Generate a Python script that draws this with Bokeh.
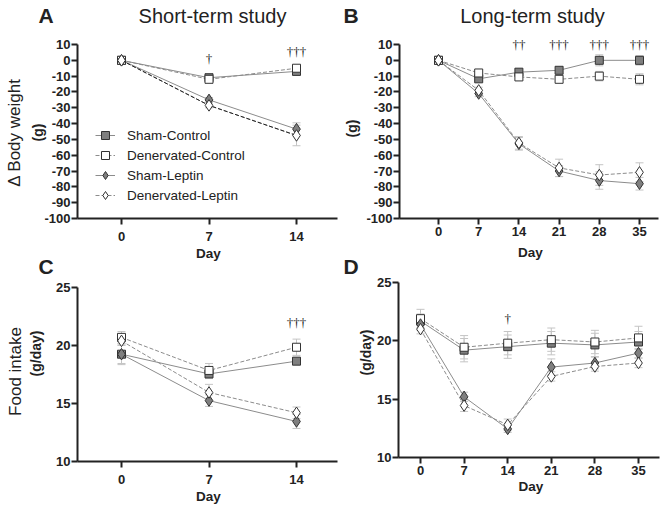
import math
from bokeh.plotting import figure
from bokeh.models import (Range1d, FixedTicker, Label, LabelSet, ColumnDataSource,
                          Whisker, TeeHead, Legend, LegendItem, LinearAxis)
from bokeh.layouts import row
from bokeh.embed import file_html
from bokeh.resources import INLINE

FONT = "Liberation Sans"
INK = "#222222"

group_names = ["Sham-Control", "Denervated-Control", "Sham-Leptin", "Denervated-Leptin"]

days_short = [0, 7, 14]
days_long = [0, 7, 14, 21, 28, 35]

# A: change in body weight, short-term study (g)
bw_short_sham_ctrl = [0, -11, -7]
bw_short_den_ctrl = [0, -12, -5]
bw_short_sham_lep = [0, -25, -43.5]
bw_short_den_lep = [0, -28.5, -47.5]
bw_short_sham_ctrl_err = [0, 1.5, 2]
bw_short_den_ctrl_err = [0, 1.5, 2]
bw_short_sham_lep_err = [0, 1.5, 4]
bw_short_den_lep_err = [0, 1.5, 6.5]

# B: change in body weight, long-term study (g)
bw_long_sham_ctrl = [0, -11.7, -7.5, -6.3, 0, 0]
bw_long_den_ctrl = [0, -8, -10.5, -12, -10, -12]
bw_long_sham_lep = [0, -21, -52.8, -70, -76, -78]
bw_long_den_lep = [0, -19, -52.2, -68, -72.5, -70.8]
bw_long_sham_ctrl_err = [0, 1.5, 2, 2, 3.5, 3]
bw_long_den_ctrl_err = [0, 1.5, 2, 2, 3, 3.5]
bw_long_sham_lep_err = [0, 2, 4, 3.5, 5.5, 4]
bw_long_den_lep_err = [0, 2, 4, 5.5, 6.5, 6]

# C: food intake, short-term study (g/day)
fi_short_sham_ctrl = [19.25, 17.55, 18.65]
fi_short_den_ctrl = [20.7, 17.85, 19.85]
fi_short_sham_lep = [19.25, 15.25, 13.45]
fi_short_den_lep = [20.4, 15.95, 14.2]
fi_short_sham_ctrl_err = [0.8, 0.4, 0.3]
fi_short_den_ctrl_err = [0.5, 0.6, 0.7]
fi_short_sham_lep_err = [0.9, 0.5, 0.6]
fi_short_den_lep_err = [0.4, 0.7, 0.5]

# D: food intake, long-term study (g/day)
fi_long_sham_ctrl = [21.7, 19.2, 19.5, 19.8, 19.65, 19.9]
fi_long_den_ctrl = [21.9, 19.45, 19.8, 20.1, 19.9, 20.25]
fi_long_sham_lep = [21.4, 15.2, 12.45, 17.75, 18.1, 18.95]
fi_long_den_lep = [21.0, 14.45, 12.8, 16.95, 17.8, 18.1]
fi_long_sham_ctrl_err = [0.6, 1.0, 1.0, 1.0, 1.0, 0.9]
fi_long_den_ctrl_err = [0.8, 1.0, 1.0, 1.0, 1.0, 1.0]
fi_long_sham_lep_err = [0.5, 0.4, 0.3, 0.7, 0.5, 0.4]
fi_long_den_lep_err = [0.4, 0.5, 0.5, 0.4, 0.4, 0.4]

# significance marks (day, mark, level)
sig_a_days = [7, 14]
sig_a_marks = ["\u2020", "\u2020\u2020\u2020"]
sig_a_level = [1.0, 5.5]
sig_b_days = [14, 21, 28, 35]
sig_b_marks = ["\u2020\u2020", "\u2020\u2020\u2020", "\u2020\u2020\u2020", "\u2020\u2020\u2020"]
sig_b_level = [10, 10, 10, 10]
sig_c_days = [14]
sig_c_marks = ["\u2020\u2020\u2020"]
sig_c_level = [21.95]
sig_d_days = [14]
sig_d_marks = ["\u2020"]
sig_d_level = [21.9]

bw_ticks = list(range(-100, 11, 10))
fi_ticks = [10, 15, 20, 25]

GRAY_FILL = "#7f7f7f"
LINE_GRAY = "#8c8c8c"
ERR_GRAY = "#c4c4c4"
STYLE = {
    "Sham-Control": dict(marker="square", size=8, fill=GRAY_FILL, dash="solid"),
    "Denervated-Control": dict(marker="square", size=8, fill="white", dash="4 2"),
    "Sham-Leptin": dict(marker="diamond", size=11.5, fill=GRAY_FILL, dash="solid"),
    "Denervated-Leptin": dict(marker="diamond", size=11.5, fill="white", dash="4 2"),
}
VERT = math.pi / 2
CANVAS_H = 506


def mappers(g):
    ypp = (g["y_hi"] - g["y_lo"]) / (g["bottom"] - g["top"])
    dx = lambda px: (px - g["px0"]) / g["ppd"]
    dy = lambda py: g["y_hi"] - (py - g["top"]) * ypp
    return dx, dy


def style_axis(ax, ticks, standoff):
    ax.axis_line_width = 2
    ax.axis_line_color = INK
    ax.major_tick_line_width = 2
    ax.major_tick_line_color = INK
    ax.major_tick_out = 6
    ax.major_tick_in = 0
    ax.minor_tick_line_color = None
    ax.major_label_text_font = FONT
    ax.major_label_text_font_size = "13px"
    ax.major_label_text_font_style = "bold"
    ax.major_label_text_color = INK
    ax.ticker = FixedTicker(ticks=ticks)
    ax.major_label_overrides = {t: str(t) for t in ticks}
    ax.major_label_standoff = standoff


def draw_panel(p, g, rn, xa, ya):
    dx, dy = mappers(g)
    xa.fixed_location = g["y_lo"]
    xa.bounds = (dx(g["left"]), dx(g["right"]))
    ya.fixed_location = dx(g["left"])
    ya.bounds = (g["y_lo"], g["y_hi"])
    style_axis(xa, g["days"], g["x_standoff"])
    style_axis(ya, g["y_ticks"], 1)
    rk = dict(x_range_name=rn, y_range_name=rn)
    days = g["days"]
    series = g["series"]
    errs = g["errs"]

    for name in group_names:
        vals = series[name]
        e = errs[name]
        src = ColumnDataSource(dict(x=days,
                                    upper=[v + d for v, d in zip(vals, e)],
                                    lower=[v - d for v, d in zip(vals, e)]))
        p.add_layout(Whisker(source=src, base="x", upper="upper", lower="lower",
                             line_color=ERR_GRAY, line_width=1, level="underlay",
                             upper_head=TeeHead(size=8, line_color=ERR_GRAY, line_width=1),
                             lower_head=TeeHead(size=8, line_color=ERR_GRAY, line_width=1),
                             **rk))

    line_r = {}
    for name in group_names:
        line_r[name] = p.line(days, series[name], line_color=LINE_GRAY, line_width=1,
                              line_dash=STYLE[name]["dash"], **rk)
    if g.get("dl_color"):
        p.line(days, series["Denervated-Leptin"], line_color=g["dl_color"], line_width=1,
               line_dash=STYLE["Denervated-Leptin"]["dash"], **rk)
    mark_r = {}
    for name in group_names:
        st = STYLE[name]
        mark_r[name] = p.scatter(days, series[name], marker=st["marker"], size=st["size"],
                                 fill_color=st["fill"], line_color="#333333", line_width=1,
                                 **rk)

    sig_src = ColumnDataSource(dict(x=g["sig"][0], t=g["sig"][1], y=g["sig"][2]))
    p.add_layout(LabelSet(source=sig_src, x="x", y="y", text="t",
                          text_font=FONT, text_font_size="13px", text_color=INK,
                          text_align="center", text_baseline="middle", **rk))

    for t in g["texts"]:
        p.add_layout(Label(x=dx(t["px"]), y=dy(t["py"]), text=t["text"], text_font=FONT,
                           text_font_size=t["size"], text_font_style=t.get("style", "normal"),
                           text_color=INK, text_align=t.get("align", "center"),
                           text_baseline="middle", angle=t.get("angle", 0.0), **rk))
    return line_r, mark_r


def make_column(fx, w, g_top, g_low, legend=None):
    dxt, dyt = mappers(g_top)
    dxl, dyl = mappers(g_low)
    p = figure(width=w, height=CANVAS_H,
               x_range=Range1d(dxt(fx), dxt(fx + w)),
               y_range=Range1d(dyt(CANVAS_H), dyt(0)),
               output_backend="svg", toolbar_location=None,
               min_border_left=0, min_border_right=0,
               min_border_top=0, min_border_bottom=0)
    p.extra_x_ranges = {"low": Range1d(dxl(fx), dxl(fx + w))}
    p.extra_y_ranges = {"low": Range1d(dyl(CANVAS_H), dyl(0))}
    p.xgrid.visible = False
    p.ygrid.visible = False
    p.outline_line_color = None
    p.background_fill_color = "white"
    p.border_fill_color = "white"

    xa_top, ya_top = p.xaxis[0], p.yaxis[0]
    xa_low = LinearAxis(x_range_name="low", y_range_name="low")
    ya_low = LinearAxis(x_range_name="low", y_range_name="low")
    p.add_layout(xa_low, "below")
    p.add_layout(ya_low, "left")

    line_r, mark_r = draw_panel(p, g_top, "default", xa_top, ya_top)
    draw_panel(p, g_low, "low", xa_low, ya_low)

    if legend is not None:
        items = [LegendItem(label=n, renderers=[line_r[n], mark_r[n]]) for n in group_names]
        p.add_layout(Legend(items=items,
                            location=(legend[0] - fx, CANVAS_H - legend[1]),
                            orientation="vertical",
                            padding=0, margin=0, spacing=0, glyph_width=20, glyph_height=20,
                            label_height=20, label_standoff=12,
                            label_text_font=FONT, label_text_font_size="13.5px",
                            label_text_color=INK, background_fill_alpha=0,
                            border_line_alpha=0))
    return p


# panel geometry in page pixels: axis box (left..right, top..bottom), day-0 x and px/day
geo_a = dict(left=77, right=337, top=44, bottom=218, px0=121, ppd=12.5,
             y_lo=-100, y_hi=10, y_ticks=bw_ticks, days=days_short, x_standoff=7,
             series={"Sham-Control": bw_short_sham_ctrl, "Denervated-Control": bw_short_den_ctrl,
                     "Sham-Leptin": bw_short_sham_lep, "Denervated-Leptin": bw_short_den_lep},
             errs={"Sham-Control": bw_short_sham_ctrl_err, "Denervated-Control": bw_short_den_ctrl_err,
                   "Sham-Leptin": bw_short_sham_lep_err, "Denervated-Leptin": bw_short_den_lep_err},
             sig=(sig_a_days, sig_a_marks, sig_a_level), dl_color="#222222",
             texts=[
                 dict(text="A", px=38, py=14.5, size="21px", style="bold", align="left"),
                 dict(text="Short-term study", px=212, py=15, size="20px"),
                 dict(text="\u0394 Body weight", px=14, py=132, size="17px", angle=VERT),
                 dict(text="(g)", px=37, py=132, size="14px", style="bold", angle=VERT),
                 dict(text="Day", px=208, py=253, size="13.5px", style="bold"),
             ])
geo_c = dict(left=77, right=337, top=287, bottom=461, px0=121, ppd=12.5,
             y_lo=10, y_hi=25, y_ticks=fi_ticks, days=days_short, x_standoff=7,
             series={"Sham-Control": fi_short_sham_ctrl, "Denervated-Control": fi_short_den_ctrl,
                     "Sham-Leptin": fi_short_sham_lep, "Denervated-Leptin": fi_short_den_lep},
             errs={"Sham-Control": fi_short_sham_ctrl_err, "Denervated-Control": fi_short_den_ctrl_err,
                   "Sham-Leptin": fi_short_sham_lep_err, "Denervated-Leptin": fi_short_den_lep_err},
             sig=(sig_c_days, sig_c_marks, sig_c_level),
             texts=[
                 dict(text="C", px=38, py=265.5, size="21px", style="bold", align="left"),
                 dict(text="Food intake", px=15, py=371, size="17px", angle=VERT),
                 dict(text="(g/day)", px=35, py=353, size="14px", style="bold", angle=VERT),
                 dict(text="Day", px=208, py=496, size="13.5px", style="bold"),
             ])
geo_b = dict(left=399, right=658, top=44, bottom=218, px0=438, ppd=201 / 35,
             y_lo=-100, y_hi=10, y_ticks=bw_ticks, days=days_long, x_standoff=2,
             series={"Sham-Control": bw_long_sham_ctrl, "Denervated-Control": bw_long_den_ctrl,
                     "Sham-Leptin": bw_long_sham_lep, "Denervated-Leptin": bw_long_den_lep},
             errs={"Sham-Control": bw_long_sham_ctrl_err, "Denervated-Control": bw_long_den_ctrl_err,
                   "Sham-Leptin": bw_long_sham_lep_err, "Denervated-Leptin": bw_long_den_lep_err},
             sig=(sig_b_days, sig_b_marks, sig_b_level),
             texts=[
                 dict(text="B", px=343, py=14.5, size="21px", style="bold", align="left"),
                 dict(text="Long-term study", px=532, py=15, size="20px"),
                 dict(text="(g)", px=351, py=128, size="14px", style="bold", angle=VERT),
                 dict(text="Day", px=530, py=252, size="13.5px", style="bold"),
             ])
geo_d = dict(left=398, right=659, top=282, bottom=457, px0=420, ppd=218 / 35,
             y_lo=10, y_hi=25, y_ticks=fi_ticks, days=days_long, x_standoff=2,
             series={"Sham-Control": fi_long_sham_ctrl, "Denervated-Control": fi_long_den_ctrl,
                     "Sham-Leptin": fi_long_sham_lep, "Denervated-Leptin": fi_long_den_lep},
             errs={"Sham-Control": fi_long_sham_ctrl_err, "Denervated-Control": fi_long_den_ctrl_err,
                   "Sham-Leptin": fi_long_sham_lep_err, "Denervated-Leptin": fi_long_den_lep_err},
             sig=(sig_d_days, sig_d_marks, sig_d_level),
             texts=[
                 dict(text="D", px=343, py=265.5, size="21px", style="bold", align="left"),
                 dict(text="(g/day)", px=365, py=352, size="14px", style="bold", angle=VERT),
                 dict(text="Day", px=530.5, py=486, size="13.5px", style="bold"),
             ])

p_left = make_column(0, 338, geo_a, geo_c, legend=(95, 205))
p_right = make_column(338, 322, geo_b, geo_d)

layout = row(p_left, p_right)
open("out.html", "w").write(file_html(layout, INLINE))
